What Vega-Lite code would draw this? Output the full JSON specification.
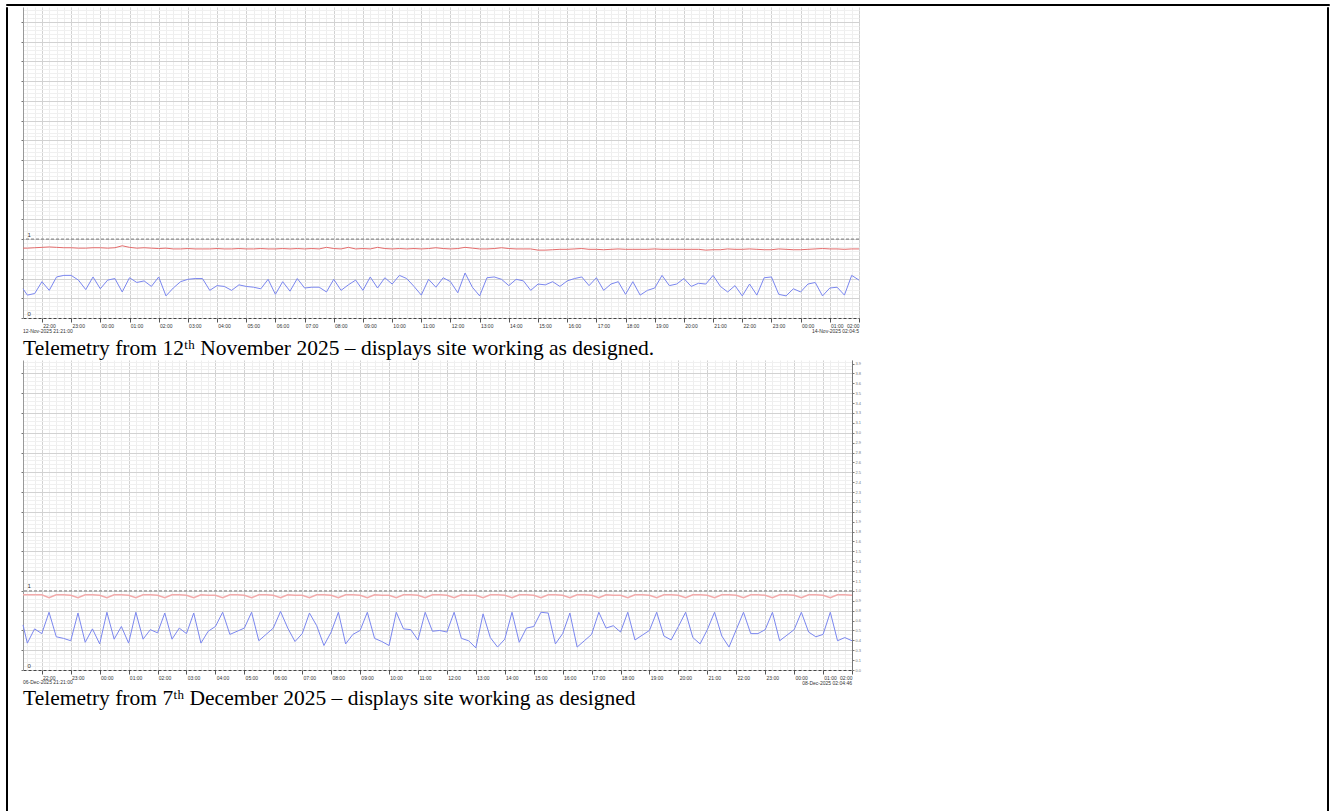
{
 "$schema": "https://vega.github.io/schema/vega-lite/v6.json",
 "background": "white",
 "padding": {"left": 5, "top": 3, "right": 0, "bottom": 0},
 "config": {"view": {"stroke": null}, "font": "Liberation Sans"},
 "datasets": {
  "nov": [
   {"t":"2025-11-12T21:21","b":0.37,"r":0.885},{"t":"2025-11-12T21:30","b":0.29,"r":0.885},{"t":"2025-11-12T21:45","b":0.31,"r":0.89},
   {"t":"2025-11-12T22:00","b":0.46,"r":0.895},{"t":"2025-11-12T22:15","b":0.35,"r":0.9},{"t":"2025-11-12T22:30","b":0.52,"r":0.895},{"t":"2025-11-12T22:45","b":0.54,"r":0.89},
   {"t":"2025-11-12T23:00","b":0.54,"r":0.89},{"t":"2025-11-12T23:15","b":0.48,"r":0.885},{"t":"2025-11-12T23:30","b":0.36,"r":0.885},{"t":"2025-11-12T23:45","b":0.52,"r":0.89},
   {"t":"2025-11-13T00:00","b":0.37,"r":0.89},{"t":"2025-11-13T00:15","b":0.48,"r":0.885},{"t":"2025-11-13T00:30","b":0.50,"r":0.89},{"t":"2025-11-13T00:45","b":0.33,"r":0.915},
   {"t":"2025-11-13T01:00","b":0.51,"r":0.895},{"t":"2025-11-13T01:15","b":0.45,"r":0.885},{"t":"2025-11-13T01:30","b":0.47,"r":0.89},{"t":"2025-11-13T01:45","b":0.40,"r":0.885},
   {"t":"2025-11-13T02:00","b":0.52,"r":0.88},{"t":"2025-11-13T02:15","b":0.28,"r":0.885},{"t":"2025-11-13T02:30","b":0.38,"r":0.875},{"t":"2025-11-13T02:45","b":0.46,"r":0.875},
   {"t":"2025-11-13T03:00","b":0.49,"r":0.88},{"t":"2025-11-13T03:15","b":0.50,"r":0.875},{"t":"2025-11-13T03:30","b":0.50,"r":0.875},{"t":"2025-11-13T03:45","b":0.35,"r":0.875},
   {"t":"2025-11-13T04:00","b":0.41,"r":0.88},{"t":"2025-11-13T04:15","b":0.40,"r":0.875},{"t":"2025-11-13T04:30","b":0.35,"r":0.875},{"t":"2025-11-13T04:45","b":0.42,"r":0.88},
   {"t":"2025-11-13T05:00","b":0.40,"r":0.875},{"t":"2025-11-13T05:15","b":0.39,"r":0.875},{"t":"2025-11-13T05:30","b":0.37,"r":0.88},{"t":"2025-11-13T05:45","b":0.49,"r":0.875},
   {"t":"2025-11-13T06:00","b":0.30,"r":0.875},{"t":"2025-11-13T06:15","b":0.46,"r":0.88},{"t":"2025-11-13T06:30","b":0.34,"r":0.875},{"t":"2025-11-13T06:45","b":0.50,"r":0.88},
   {"t":"2025-11-13T07:00","b":0.38,"r":0.875},{"t":"2025-11-13T07:15","b":0.39,"r":0.88},{"t":"2025-11-13T07:30","b":0.39,"r":0.875},{"t":"2025-11-13T07:45","b":0.33,"r":0.895},
   {"t":"2025-11-13T08:00","b":0.49,"r":0.88},{"t":"2025-11-13T08:15","b":0.35,"r":0.875},{"t":"2025-11-13T08:30","b":0.42,"r":0.895},{"t":"2025-11-13T08:45","b":0.48,"r":0.875},
   {"t":"2025-11-13T09:00","b":0.35,"r":0.88},{"t":"2025-11-13T09:15","b":0.52,"r":0.875},{"t":"2025-11-13T09:30","b":0.38,"r":0.895},{"t":"2025-11-13T09:45","b":0.51,"r":0.88},
   {"t":"2025-11-13T10:00","b":0.43,"r":0.875},{"t":"2025-11-13T10:15","b":0.54,"r":0.88},{"t":"2025-11-13T10:30","b":0.50,"r":0.875},{"t":"2025-11-13T10:45","b":0.40,"r":0.88},
   {"t":"2025-11-13T11:00","b":0.29,"r":0.875},{"t":"2025-11-13T11:15","b":0.49,"r":0.88},{"t":"2025-11-13T11:30","b":0.39,"r":0.89},{"t":"2025-11-13T11:45","b":0.51,"r":0.88},
   {"t":"2025-11-13T12:00","b":0.46,"r":0.875},{"t":"2025-11-13T12:15","b":0.32,"r":0.88},{"t":"2025-11-13T12:30","b":0.57,"r":0.895},{"t":"2025-11-13T12:45","b":0.39,"r":0.885},
   {"t":"2025-11-13T13:00","b":0.28,"r":0.875},{"t":"2025-11-13T13:15","b":0.51,"r":0.875},{"t":"2025-11-13T13:30","b":0.52,"r":0.88},{"t":"2025-11-13T13:45","b":0.49,"r":0.89},
   {"t":"2025-11-13T14:00","b":0.41,"r":0.88},{"t":"2025-11-13T14:15","b":0.49,"r":0.875},{"t":"2025-11-13T14:30","b":0.47,"r":0.875},{"t":"2025-11-13T14:45","b":0.35,"r":0.875},
   {"t":"2025-11-13T15:00","b":0.43,"r":0.86},{"t":"2025-11-13T15:15","b":0.42,"r":0.86},{"t":"2025-11-13T15:30","b":0.46,"r":0.865},{"t":"2025-11-13T15:45","b":0.40,"r":0.87},
   {"t":"2025-11-13T16:00","b":0.47,"r":0.87},{"t":"2025-11-13T16:15","b":0.50,"r":0.875},{"t":"2025-11-13T16:30","b":0.52,"r":0.88},{"t":"2025-11-13T16:45","b":0.41,"r":0.87},
   {"t":"2025-11-13T17:00","b":0.51,"r":0.87},{"t":"2025-11-13T17:15","b":0.35,"r":0.865},{"t":"2025-11-13T17:30","b":0.43,"r":0.87},{"t":"2025-11-13T17:45","b":0.46,"r":0.875},
   {"t":"2025-11-13T18:00","b":0.30,"r":0.87},{"t":"2025-11-13T18:15","b":0.46,"r":0.87},{"t":"2025-11-13T18:30","b":0.29,"r":0.87},{"t":"2025-11-13T18:45","b":0.35,"r":0.87},
   {"t":"2025-11-13T19:00","b":0.38,"r":0.875},{"t":"2025-11-13T19:15","b":0.54,"r":0.87},{"t":"2025-11-13T19:30","b":0.41,"r":0.87},{"t":"2025-11-13T19:45","b":0.43,"r":0.87},
   {"t":"2025-11-13T20:00","b":0.50,"r":0.87},{"t":"2025-11-13T20:15","b":0.40,"r":0.87},{"t":"2025-11-13T20:30","b":0.44,"r":0.87},{"t":"2025-11-13T20:45","b":0.43,"r":0.86},
   {"t":"2025-11-13T21:00","b":0.54,"r":0.865},{"t":"2025-11-13T21:15","b":0.40,"r":0.865},{"t":"2025-11-13T21:30","b":0.33,"r":0.875},{"t":"2025-11-13T21:45","b":0.41,"r":0.87},
   {"t":"2025-11-13T22:00","b":0.28,"r":0.87},{"t":"2025-11-13T22:15","b":0.43,"r":0.875},{"t":"2025-11-13T22:30","b":0.29,"r":0.87},{"t":"2025-11-13T22:45","b":0.51,"r":0.865},
   {"t":"2025-11-13T23:00","b":0.52,"r":0.865},{"t":"2025-11-13T23:15","b":0.30,"r":0.875},{"t":"2025-11-13T23:30","b":0.28,"r":0.87},{"t":"2025-11-13T23:45","b":0.37,"r":0.865},
   {"t":"2025-11-14T00:00","b":0.33,"r":0.865},{"t":"2025-11-14T00:15","b":0.43,"r":0.87},{"t":"2025-11-14T00:30","b":0.45,"r":0.875},{"t":"2025-11-14T00:45","b":0.28,"r":0.88},
   {"t":"2025-11-14T01:00","b":0.38,"r":0.875},{"t":"2025-11-14T01:15","b":0.39,"r":0.875},{"t":"2025-11-14T01:30","b":0.29,"r":0.87},{"t":"2025-11-14T01:45","b":0.54,"r":0.875},
   {"t":"2025-11-14T02:00","b":0.48,"r":0.875}
  ],
  "dec": [
   {"t":"2025-12-06T21:21","b":0.57,"r":0.95},{"t":"2025-12-06T21:30","b":0.34,"r":0.95},{"t":"2025-12-06T21:45","b":0.52,"r":0.95},
   {"t":"2025-12-06T22:00","b":0.46,"r":0.95},{"t":"2025-12-06T22:15","b":0.73,"r":0.915},{"t":"2025-12-06T22:30","b":0.42,"r":0.95},{"t":"2025-12-06T22:45","b":0.40,"r":0.95},
   {"t":"2025-12-06T23:00","b":0.37,"r":0.945},{"t":"2025-12-06T23:15","b":0.72,"r":0.915},{"t":"2025-12-06T23:30","b":0.35,"r":0.95},{"t":"2025-12-06T23:45","b":0.52,"r":0.95},
   {"t":"2025-12-07T00:00","b":0.33,"r":0.945},{"t":"2025-12-07T00:15","b":0.73,"r":0.915},{"t":"2025-12-07T00:30","b":0.39,"r":0.95},{"t":"2025-12-07T00:45","b":0.55,"r":0.95},
   {"t":"2025-12-07T01:00","b":0.34,"r":0.945},{"t":"2025-12-07T01:15","b":0.73,"r":0.915},{"t":"2025-12-07T01:30","b":0.39,"r":0.95},{"t":"2025-12-07T01:45","b":0.51,"r":0.95},
   {"t":"2025-12-07T02:00","b":0.47,"r":0.945},{"t":"2025-12-07T02:15","b":0.72,"r":0.915},{"t":"2025-12-07T02:30","b":0.39,"r":0.95},{"t":"2025-12-07T02:45","b":0.53,"r":0.95},
   {"t":"2025-12-07T03:00","b":0.46,"r":0.945},{"t":"2025-12-07T03:15","b":0.72,"r":0.915},{"t":"2025-12-07T03:30","b":0.34,"r":0.95},{"t":"2025-12-07T03:45","b":0.49,"r":0.945},
   {"t":"2025-12-07T04:00","b":0.55,"r":0.945},{"t":"2025-12-07T04:15","b":0.73,"r":0.915},{"t":"2025-12-07T04:30","b":0.45,"r":0.95},{"t":"2025-12-07T04:45","b":0.49,"r":0.95},
   {"t":"2025-12-07T05:00","b":0.53,"r":0.945},{"t":"2025-12-07T05:15","b":0.73,"r":0.915},{"t":"2025-12-07T05:30","b":0.37,"r":0.95},{"t":"2025-12-07T05:45","b":0.45,"r":0.95},
   {"t":"2025-12-07T06:00","b":0.53,"r":0.945},{"t":"2025-12-07T06:15","b":0.74,"r":0.915},{"t":"2025-12-07T06:30","b":0.53,"r":0.95},{"t":"2025-12-07T06:45","b":0.36,"r":0.945},
   {"t":"2025-12-07T07:00","b":0.46,"r":0.945},{"t":"2025-12-07T07:15","b":0.72,"r":0.915},{"t":"2025-12-07T07:30","b":0.56,"r":0.95},{"t":"2025-12-07T07:45","b":0.31,"r":0.95},
   {"t":"2025-12-07T08:00","b":0.48,"r":0.945},{"t":"2025-12-07T08:15","b":0.73,"r":0.915},{"t":"2025-12-07T08:30","b":0.33,"r":0.95},{"t":"2025-12-07T08:45","b":0.45,"r":0.95},
   {"t":"2025-12-07T09:00","b":0.50,"r":0.945},{"t":"2025-12-07T09:15","b":0.73,"r":0.915},{"t":"2025-12-07T09:30","b":0.40,"r":0.95},{"t":"2025-12-07T09:45","b":0.36,"r":0.945},
   {"t":"2025-12-07T10:00","b":0.31,"r":0.945},{"t":"2025-12-07T10:15","b":0.73,"r":0.915},{"t":"2025-12-07T10:30","b":0.52,"r":0.95},{"t":"2025-12-07T10:45","b":0.51,"r":0.95},
   {"t":"2025-12-07T11:00","b":0.38,"r":0.945},{"t":"2025-12-07T11:15","b":0.73,"r":0.915},{"t":"2025-12-07T11:30","b":0.49,"r":0.95},{"t":"2025-12-07T11:45","b":0.50,"r":0.95},
   {"t":"2025-12-07T12:00","b":0.48,"r":0.945},{"t":"2025-12-07T12:15","b":0.73,"r":0.915},{"t":"2025-12-07T12:30","b":0.40,"r":0.95},{"t":"2025-12-07T12:45","b":0.37,"r":0.945},
   {"t":"2025-12-07T13:00","b":0.28,"r":0.945},{"t":"2025-12-07T13:15","b":0.71,"r":0.915},{"t":"2025-12-07T13:30","b":0.41,"r":0.95},{"t":"2025-12-07T13:45","b":0.29,"r":0.95},
   {"t":"2025-12-07T14:00","b":0.39,"r":0.945},{"t":"2025-12-07T14:15","b":0.73,"r":0.915},{"t":"2025-12-07T14:30","b":0.35,"r":0.95},{"t":"2025-12-07T14:45","b":0.53,"r":0.95},
   {"t":"2025-12-07T15:00","b":0.55,"r":0.945},{"t":"2025-12-07T15:15","b":0.73,"r":0.915},{"t":"2025-12-07T15:30","b":0.72,"r":0.95},{"t":"2025-12-07T15:45","b":0.33,"r":0.95},
   {"t":"2025-12-07T16:00","b":0.46,"r":0.945},{"t":"2025-12-07T16:15","b":0.72,"r":0.915},{"t":"2025-12-07T16:30","b":0.29,"r":0.95},{"t":"2025-12-07T16:45","b":0.37,"r":0.95},
   {"t":"2025-12-07T17:00","b":0.45,"r":0.945},{"t":"2025-12-07T17:15","b":0.73,"r":0.915},{"t":"2025-12-07T17:30","b":0.53,"r":0.95},{"t":"2025-12-07T17:45","b":0.56,"r":0.945},
   {"t":"2025-12-07T18:00","b":0.48,"r":0.945},{"t":"2025-12-07T18:15","b":0.73,"r":0.915},{"t":"2025-12-07T18:30","b":0.38,"r":0.95},{"t":"2025-12-07T18:45","b":0.44,"r":0.95},
   {"t":"2025-12-07T19:00","b":0.50,"r":0.945},{"t":"2025-12-07T19:15","b":0.73,"r":0.915},{"t":"2025-12-07T19:30","b":0.43,"r":0.95},{"t":"2025-12-07T19:45","b":0.38,"r":0.95},
   {"t":"2025-12-07T20:00","b":0.55,"r":0.945},{"t":"2025-12-07T20:15","b":0.73,"r":0.915},{"t":"2025-12-07T20:30","b":0.41,"r":0.95},{"t":"2025-12-07T20:45","b":0.33,"r":0.95},
   {"t":"2025-12-07T21:00","b":0.51,"r":0.945},{"t":"2025-12-07T21:15","b":0.73,"r":0.915},{"t":"2025-12-07T21:30","b":0.43,"r":0.95},{"t":"2025-12-07T21:45","b":0.29,"r":0.95},
   {"t":"2025-12-07T22:00","b":0.51,"r":0.945},{"t":"2025-12-07T22:15","b":0.73,"r":0.915},{"t":"2025-12-07T22:30","b":0.46,"r":0.95},{"t":"2025-12-07T22:45","b":0.46,"r":0.95},
   {"t":"2025-12-07T23:00","b":0.51,"r":0.945},{"t":"2025-12-07T23:15","b":0.73,"r":0.915},{"t":"2025-12-07T23:30","b":0.37,"r":0.95},{"t":"2025-12-07T23:45","b":0.44,"r":0.95},
   {"t":"2025-12-08T00:00","b":0.51,"r":0.945},{"t":"2025-12-08T00:15","b":0.73,"r":0.915},{"t":"2025-12-08T00:30","b":0.48,"r":0.95},{"t":"2025-12-08T00:45","b":0.42,"r":0.95},
   {"t":"2025-12-08T01:00","b":0.45,"r":0.945},{"t":"2025-12-08T01:15","b":0.73,"r":0.915},{"t":"2025-12-08T01:30","b":0.37,"r":0.95},{"t":"2025-12-08T01:45","b":0.41,"r":0.95},
   {"t":"2025-12-08T02:00","b":0.37,"r":0.945}
  ]
 },
 "spacing": 0,
 "vconcat": [
  {"width": 1323, "height": 1, "view": {"stroke": "black", "strokeWidth": 1}, "data": {"values": []}, "mark": "point", "encoding": {}},
  {"spacing": 12, "hconcat": [
   {"width": 1, "height": 806, "view": {"stroke": "black", "strokeWidth": 1}, "data": {"values": []}, "mark": "point", "encoding": {}},
   {"spacing": 465, "hconcat": [
    {"spacing": 0, "vconcat": [
     {
      "width": 836, "height": 311,
      "title": {"text": "Telemetry from 12ᵗʰ November 2025 – displays site working as designed.", "orient": "bottom", "anchor": "start", "frame": "group", "font": "Liberation Serif", "fontSize": 21.5, "fontWeight": "normal", "color": "#000", "offset": 4},
      "resolve": {"axis": {"x": "independent", "y": "independent"}},
      "layer": [
       {
        "data": {"name": "nov"},
        "mark": {"type": "line", "color": "#e46c6c", "strokeWidth": 1},
        "encoding": {
         "x": {"field": "t", "type": "temporal", "axis": {"orient": "top", "title": null, "tickCount": 115, "grid": true, "gridColor": "#eeeeee", "labels": false, "ticks": false, "domain": false}},
         "y": {"field": "r", "type": "quantitative", "scale": {"domain": [0, 3.94], "nice": false, "zero": false},
          "axis": {"orient": "right", "title": null, "values": [0.05,0.1,0.15,0.2,0.3,0.35,0.4,0.45,0.55,0.6,0.65,0.7,0.8,0.85,0.9,0.95,1.05,1.1,1.15,1.2,1.3,1.35,1.4,1.45,1.55,1.6,1.65,1.7,1.8,1.85,1.9,1.95,2.05,2.1,2.15,2.2,2.3,2.35,2.4,2.45,2.55,2.6,2.65,2.7,2.8,2.85,2.9,2.95,3.05,3.1,3.15,3.2,3.3,3.35,3.4,3.45,3.55,3.6,3.65,3.7,3.8,3.85,3.9], "grid": true, "gridColor": "#f0f0f0", "labels": false, "ticks": false, "domain": false}}
        }
       },
       {
        "data": {"name": "nov"},
        "mark": {"type": "line", "color": "#7b87ef", "strokeWidth": 1},
        "encoding": {
         "x": {"field": "t", "type": "temporal", "axis": {"orient": "bottom", "title": null, "tickCount": 29, "format": "%H:%M", "grid": true, "gridColor": "#d2d2d2", "labelFlush": true, "labelFlushOffset": -7, "labelOffset": 7, "labelFontSize": 5, "labelColor": "#333", "labelPadding": 1, "labelOverlap": false, "tickSize": 4, "tickColor": "#555", "domainColor": "#444", "domainDash": [3, 2]}},
         "y": {"field": "b", "type": "quantitative", "scale": {"domain": [0, 3.94], "nice": false, "zero": false},
          "axis": {"orient": "left", "title": null, "values": [0,0.25,0.5,0.75,1,1.25,1.5,1.75,2,2.25,2.5,2.75,3,3.25,3.5,3.75], "grid": true, "gridColor": "#d2d2d2", "labels": false, "tickSize": 2, "tickColor": "#777", "domainColor": "#999"}}
        }
       },
       {
        "data": {"values": [{"level": 1}]},
        "mark": {"type": "rule", "color": "#777", "strokeDash": [3, 2], "strokeWidth": 1},
        "encoding": {
         "y": {"field": "level", "type": "quantitative", "scale": {"domain": [0, 3.94], "nice": false, "zero": false},
          "axis": {"orient": "left", "title": null, "values": [0, 1], "format": "d", "grid": false, "ticks": false, "domain": false, "labelAlign": "left", "labelBaseline": "bottom", "labelPadding": -4, "labelOffset": -2, "labelFontSize": 6, "labelColor": "#333"}}
        }
       },
       {
        "data": {"values": [{"t": "2025-11-12T21:21", "label": "12-Nov-2025 21:21:00"}]},
        "mark": {"type": "text", "align": "left", "baseline": "middle", "dy": 13, "fontSize": 5, "color": "#333"},
        "encoding": {
         "x": {"field": "t", "type": "temporal", "axis": null},
         "y": {"datum": 0, "type": "quantitative", "scale": {"domain": [0, 3.94], "nice": false, "zero": false}, "axis": null},
         "text": {"field": "label"}
        }
       },
       {
        "data": {"values": [{"t": "2025-11-14T02:00", "label": "14-Nov-2025 02:04:5"}]},
        "mark": {"type": "text", "align": "right", "baseline": "middle", "dy": 13, "fontSize": 5, "color": "#333"},
        "encoding": {
         "x": {"field": "t", "type": "temporal", "axis": null},
         "y": {"datum": 0, "type": "quantitative", "scale": {"domain": [0, 3.94], "nice": false, "zero": false}, "axis": null},
         "text": {"field": "label"}
        }
       }
      ]
     },
     {
      "width": 829, "height": 310,
      "title": {"text": "Telemetry from 7ᵗʰ December 2025 – displays site working as designed", "orient": "bottom", "anchor": "start", "frame": "group", "font": "Liberation Serif", "fontSize": 21.5, "fontWeight": "normal", "color": "#000", "offset": 2},
      "resolve": {"axis": {"x": "independent", "y": "independent"}},
      "layer": [
       {
        "data": {"name": "dec"},
        "mark": {"type": "line", "color": "#f2abab", "strokeWidth": 1.5},
        "encoding": {
         "x": {"field": "t", "type": "temporal", "axis": {"orient": "top", "title": null, "tickCount": 115, "grid": true, "gridColor": "#eeeeee", "labels": false, "ticks": false, "domain": false}},
         "y": {"field": "r", "type": "quantitative", "scale": {"domain": [0, 3.92], "nice": false, "zero": false},
          "axis": {"orient": "right", "title": null, "values": [0.05,0.1,0.15,0.2,0.3,0.35,0.4,0.45,0.55,0.6,0.65,0.7,0.8,0.85,0.9,0.95,1.05,1.1,1.15,1.2,1.3,1.35,1.4,1.45,1.55,1.6,1.65,1.7,1.8,1.85,1.9,1.95,2.05,2.1,2.15,2.2,2.3,2.35,2.4,2.45,2.55,2.6,2.65,2.7,2.8,2.85,2.9,2.95,3.05,3.1,3.15,3.2,3.3,3.35,3.4,3.45,3.55,3.6,3.65,3.7,3.8,3.85,3.9], "grid": true, "gridColor": "#f0f0f0", "labels": false, "ticks": false, "domain": false}}
        }
       },
       {
        "data": {"name": "dec"},
        "mark": {"type": "line", "color": "#7b87ef", "strokeWidth": 1},
        "encoding": {
         "x": {"field": "t", "type": "temporal", "axis": {"orient": "bottom", "title": null, "tickCount": 29, "format": "%H:%M", "grid": true, "gridColor": "#d2d2d2", "labelFlush": true, "labelFlushOffset": -7, "labelOffset": 7, "labelFontSize": 5, "labelColor": "#333", "labelPadding": 1, "labelOverlap": false, "tickSize": 4, "tickColor": "#555", "domainColor": "#444", "domainDash": [3, 2]}},
         "y": {"field": "b", "type": "quantitative", "scale": {"domain": [0, 3.92], "nice": false, "zero": false},
          "axis": {"orient": "left", "title": null, "values": [0,0.25,0.5,0.75,1,1.25,1.5,1.75,2,2.25,2.5,2.75,3,3.25,3.5,3.75], "grid": true, "gridColor": "#d2d2d2", "labels": false, "tickSize": 2, "tickColor": "#777", "domainColor": "#999"}}
        }
       },
       {
        "data": {"values": [{"level": 1}]},
        "mark": {"type": "rule", "color": "#777", "strokeDash": [3, 2], "strokeWidth": 1},
        "encoding": {
         "y": {"field": "level", "type": "quantitative", "scale": {"domain": [0, 3.92], "nice": false, "zero": false},
          "axis": {"orient": "left", "title": null, "values": [0, 1], "format": "d", "grid": false, "ticks": false, "domain": false, "labelAlign": "left", "labelBaseline": "bottom", "labelPadding": -4, "labelOffset": -2, "labelFontSize": 6, "labelColor": "#333"}}
        }
       },
       {
        "data": {"values": [{"t": "2025-12-06T21:21", "label": "06-Dec-2025 21:21:00"}]},
        "mark": {"type": "text", "align": "left", "baseline": "middle", "dy": 12, "fontSize": 5, "color": "#333"},
        "encoding": {
         "x": {"field": "t", "type": "temporal", "axis": null},
         "y": {"datum": 0, "type": "quantitative", "scale": {"domain": [0, 3.92], "nice": false, "zero": false}, "axis": null},
         "text": {"field": "label"}
        }
       },
       {
        "data": {"values": [{"t": "2025-12-08T02:00", "label": "08-Dec-2025 02:04:46"}]},
        "mark": {"type": "text", "align": "right", "baseline": "middle", "dy": 13, "fontSize": 5, "color": "#333"},
        "encoding": {
         "x": {"field": "t", "type": "temporal", "axis": null},
         "y": {"datum": 0, "type": "quantitative", "scale": {"domain": [0, 3.92], "nice": false, "zero": false},
          "axis": {"orient": "right", "title": null, "values": [0,0.125,0.25,0.375,0.5,0.625,0.75,0.875,1,1.125,1.25,1.375,1.5,1.625,1.75,1.875,2,2.125,2.25,2.375,2.5,2.625,2.75,2.875,3,3.125,3.25,3.375,3.5,3.625,3.75,3.875], "format": ".1f", "grid": false, "labelFontSize": 4, "labelColor": "#777", "labelPadding": 1, "tickSize": 2, "tickColor": "#777", "domainColor": "#777"}},
         "text": {"field": "label"}
        }
       }
      ]
     }
    ]},
    {"width": 1, "height": 806, "view": {"stroke": "black", "strokeWidth": 1}, "data": {"values": []}, "mark": "point", "encoding": {}}
   ]}
  ]}
 ]
}
